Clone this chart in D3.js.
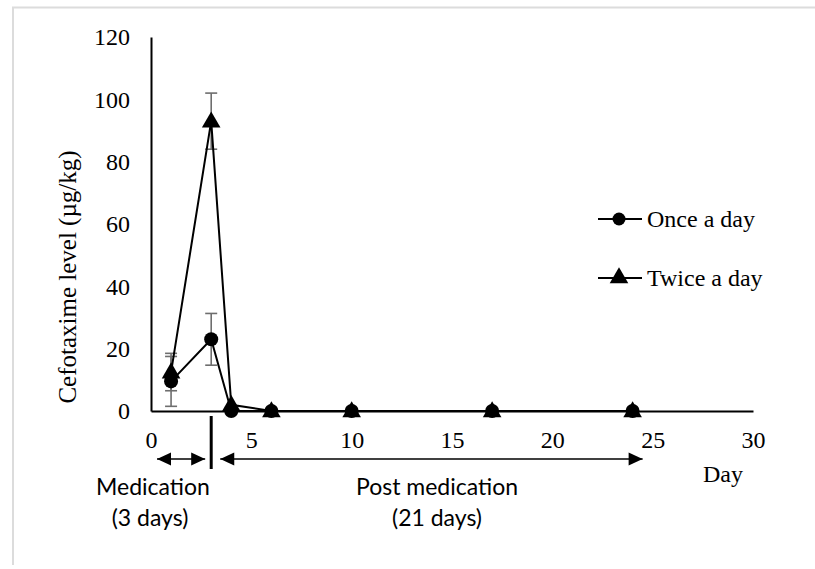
<!DOCTYPE html>
<html><head><meta charset="utf-8">
<script src="https://cdn.jsdelivr.net/npm/d3@7"></script>
<style>html,body{margin:0;padding:0;background:#fff;}</style>
</head><body>
<svg id="c" width="815" height="569"></svg>
<script>
const days = [1, 3, 4, 6, 10, 17, 24];
const onceVals = [9.5, 23, 0, 0, 0, 0, 0];
const onceErr = [8, 8.3, 0, 0, 0, 0, 0];
const twiceVals = [12.5, 93, 2, 0, 0, 0, 0];
const twiceErr = [6, 9, 0, 0, 0, 0, 0];
const xTicks = [0, 5, 10, 15, 20, 25, 30];
const yTicks = [0, 20, 40, 60, 80, 100, 120];
const seriesNames = ["Once a day", "Twice a day"];

const svg = d3.select("#c");
const serif = "'Liberation Serif','Times New Roman',serif";
const sans = "Lato,'Open Sans',sans-serif";

// frame
svg.append("path").attr("d","M13,565 V7.5 H815").attr("fill","none").attr("stroke","#dcdcdc").attr("stroke-width",2);

const x = d3.scaleLinear().domain([0,30]).range([151,753]);
const y = d3.scaleLinear().domain([0,120]).range([411,37]);

// axes
const yAxis = d3.axisLeft(y).tickValues(yTicks).tickSize(0).tickPadding(21);
const gy = svg.append("g").attr("transform",`translate(${x(0)},0)`).call(yAxis);
gy.attr("font-family",null).attr("font-size",null);
gy.select(".domain").attr("stroke","#000").attr("stroke-width",2);
gy.selectAll("text").attr("font-family",serif).attr("font-size",24).attr("fill","#000");

const xAxis = d3.axisBottom(x).tickValues(xTicks).tickSize(0).tickPadding(20);
const gx = svg.append("g").attr("transform",`translate(0,${y(0)})`).call(xAxis);
gx.attr("font-family",null).attr("font-size",null);
gx.select(".domain").attr("stroke","#000").attr("stroke-width",2);
gx.selectAll("text").attr("font-family",serif).attr("font-size",24).attr("fill","#000");

// axis titles
svg.append("text").attr("transform",`translate(76,277) rotate(-90)`)
  .attr("text-anchor","middle").attr("font-family",serif).attr("font-size",25).text("Cefotaxime level (µg/kg)");
svg.append("text").attr("x",723).attr("y",482).attr("text-anchor","middle")
  .attr("font-family",serif).attr("font-size",24).text("Day");

const once = days.map((d,i)=>({d, v:onceVals[i], e:onceErr[i]}));
const twice = days.map((d,i)=>({d, v:twiceVals[i], e:twiceErr[i]}));

// error bars
function errBars(data){
  const g = svg.append("g").attr("stroke","#6e6e6e").attr("stroke-width",1.6);
  data.filter(p=>p.e>0).forEach(p=>{
    const cx = x(p.d);
    g.append("line").attr("x1",cx).attr("x2",cx).attr("y1",y(p.v-p.e)).attr("y2",y(p.v+p.e));
    [p.v-p.e, p.v+p.e].forEach(v=>g.append("line").attr("x1",cx-6).attr("x2",cx+6).attr("y1",y(v)).attr("y2",y(v)));
  });
}
errBars(once); errBars(twice);

const line = d3.line().x(p=>x(p.d)).y(p=>y(p.v));
svg.append("path").datum(once).attr("d",line).attr("fill","none").attr("stroke","#000").attr("stroke-width",2);
svg.append("path").datum(twice).attr("d",line).attr("fill","none").attr("stroke","#000").attr("stroke-width",2);

const tri = d3.symbol().type(d3.symbolTriangle).size(150);
svg.selectAll(".c1").data(once).enter().append("circle")
  .attr("cx",p=>x(p.d)).attr("cy",p=>y(p.v)).attr("r",7).attr("fill","#000");
svg.selectAll(".t1").data(twice).enter().append("path").attr("d",tri)
  .attr("transform",p=>`translate(${x(p.d)},${y(p.v)+1})`).attr("fill","#000");

// legend
const lg = svg.append("g");
[219, 278].forEach((ly,i)=>{
  lg.append("line").attr("x1",598).attr("x2",642).attr("y1",ly).attr("y2",ly).attr("stroke","#000").attr("stroke-width",2);
  if(i===0) lg.append("circle").attr("cx",619).attr("cy",ly).attr("r",6.5).attr("fill","#000");
  else lg.append("path").attr("d",tri).attr("transform",`translate(619,${ly})`).attr("fill","#000");
  lg.append("text").attr("x",647).attr("y",ly+8).attr("font-family",serif).attr("font-size",24).text(seriesNames[i]);
});

// annotations
function arrowHead(px,py,dir){
  svg.append("path").attr("d",`M${px},${py} l${-dir*14},-6.5 l0,13 Z`).attr("fill","#000");
}
function dblArrow(x1,x2,ay,left,right){
  svg.append("line").attr("x1",x1).attr("x2",x2).attr("y1",ay).attr("y2",ay).attr("stroke","#000").attr("stroke-width",1.6);
  if(left) arrowHead(x1,ay,-1);
  if(right) arrowHead(x2,ay,1);
}
svg.append("line").attr("x1",x(3)).attr("x2",x(3)).attr("y1",416).attr("y2",469).attr("stroke","#000").attr("stroke-width",3);
dblArrow(x(0.3), x(2.7), 459, true, true);
dblArrow(x(3.45), x(24.5), 459, true, true);

const ann = [
  {t:"Medication", cx:153, cy:495},
  {t:"(3 days)", cx:150, cy:526},
  {t:"Post medication", cx:437, cy:495},
  {t:"(21 days)", cx:437, cy:526}
];
svg.selectAll(".ann").data(ann).enter().append("text")
  .attr("x",a=>a.cx).attr("y",a=>a.cy).attr("text-anchor","middle")
  .attr("font-family",sans).attr("font-size",23).text(a=>a.t);
</script>
</body></html>
